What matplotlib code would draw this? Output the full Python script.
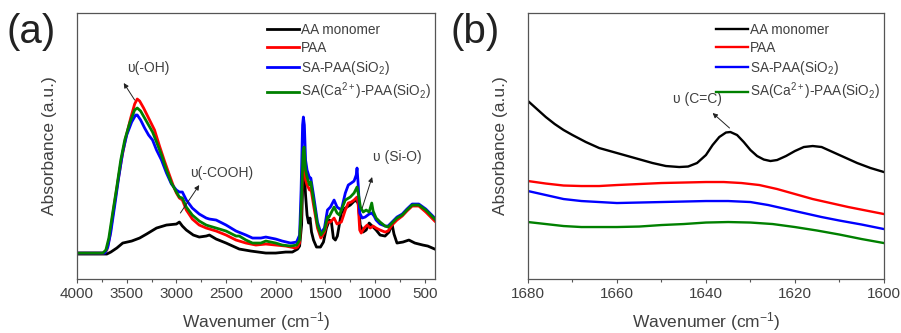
import matplotlib
matplotlib.use("Agg")
import matplotlib.pyplot as plt
from matplotlib.ticker import MultipleLocator

plt.rcParams['font.family'] = ['Liberation Sans', 'DejaVu Sans']
plt.rcParams['mathtext.fontset'] = 'custom'
plt.rcParams['mathtext.rm'] = 'Liberation Sans'
plt.rcParams['mathtext.it'] = 'Liberation Sans:italic'

TEXT = '#404040'

series_names = ['AA monomer', 'PAA', 'SA-PAA(SiO$_2$)', 'SA(Ca$^{2+}$)-PAA(SiO$_2$)']
series_colors = ['black', '#ff0000', '#0000ff', '#008000']

# ---- panel (a): full spectrum, wavenumber (cm-1) and absorbance (a.u.)
a_black_x = [4000, 3700, 3660, 3600, 3540, 3450, 3370, 3300, 3200, 3100, 3000, 2970, 2940,
             2900, 2830, 2770, 2700, 2668, 2600, 2500, 2367, 2250, 2100, 2000, 1900, 1833,
             1780, 1760, 1740, 1725, 1715, 1700, 1685, 1670, 1655, 1640, 1620, 1590, 1550,
             1520, 1490, 1460, 1440, 1420, 1400, 1380, 1340, 1300, 1250, 1200, 1170, 1150,
             1120, 1090, 1060, 1020, 990, 950, 900, 860, 830, 810, 780, 720, 660, 600, 520,
             470, 400]
a_black_y = [25, 25, 27, 31, 36, 38, 41, 45, 51, 54, 55, 57, 53,
             49, 44, 42, 43, 44, 40, 36, 30, 28, 26, 26, 27, 27,
             30, 33, 54, 109, 112, 84, 64, 56, 61, 47, 39, 32, 32,
             37, 51, 59, 57, 41, 39, 43, 66, 71, 74, 79, 76, 54,
             47, 49, 56, 52, 49, 44, 43, 47, 55, 45, 36, 37, 39, 36, 34,
             33, 30]

a_red_x = [4000, 3730, 3700, 3670, 3630, 3590, 3550, 3510, 3460, 3420, 3394, 3370, 3330,
           3300, 3260, 3220, 3170, 3120, 3070, 3030, 3000, 2970, 2940, 2900, 2840, 2770,
           2700, 2600, 2500, 2400, 2300, 2200, 2100, 2000, 1900, 1800, 1780, 1760, 1745,
           1725, 1715, 1700, 1685, 1660, 1647, 1620, 1580, 1546, 1510, 1480, 1450, 1413,
           1383, 1340, 1300, 1270, 1240, 1212, 1182, 1170, 1155, 1140, 1110, 1080, 1050,
           1020, 990, 950, 900, 870, 830, 780, 727, 680, 627, 560, 490, 400]
a_red_y = [26, 26, 29, 43, 71, 97, 121, 141, 161, 175, 180, 178, 171,
           165, 157, 149, 133, 118, 104, 93, 86, 81, 79, 69, 60, 54,
           51, 48, 44, 39, 36, 34, 35, 34, 33, 31, 32, 36, 64,
           124, 127, 99, 94, 89, 91, 74, 51, 41, 47, 57, 57, 61,
           55, 57, 69, 76, 77, 79, 82, 74, 49, 46, 51, 54, 51,
           53, 51, 49, 47, 48, 54, 59, 63, 68, 73, 73, 67, 58]

a_blue_x = [4000, 3720, 3690, 3660, 3620, 3580, 3540, 3500, 3450, 3410, 3394, 3360, 3320,
            3280, 3240, 3200, 3150, 3100, 3050, 3000, 2970, 2940, 2900, 2840, 2770, 2700,
            2668, 2600, 2500, 2400, 2300, 2234, 2150, 2100, 2000, 1935, 1850, 1790, 1760,
            1745, 1730, 1722, 1712, 1700, 1685, 1660, 1647, 1620, 1580, 1546, 1510, 1480,
            1450, 1413, 1383, 1340, 1300, 1270, 1240, 1212, 1190, 1182, 1170, 1155, 1130,
            1100, 1060, 1034, 1010, 990, 950, 900, 870, 830, 780, 727, 680, 627, 560, 490, 400]
a_blue_y = [26, 26, 32, 47, 74, 102, 127, 144, 157, 164, 164, 159, 151,
            144, 139, 129, 119, 106, 95, 89, 87, 87, 79, 71, 65, 61,
            60, 59, 54, 48, 44, 41, 41, 42, 40, 38, 36, 37, 44,
            89, 154, 162, 154, 119, 109, 101, 101, 84, 57, 46, 51, 69,
            72, 79, 72, 69, 86, 94, 96, 98, 104, 111, 94, 66, 61,
            62, 65, 66, 63, 59, 55, 53, 53, 57, 62, 65, 70, 75, 75, 70, 61]

a_green_x = [4000, 3740, 3710, 3680, 3640, 3600, 3560, 3520, 3470, 3420, 3394, 3360, 3320,
             3280, 3240, 3200, 3150, 3100, 3050, 3000, 2970, 2940, 2900, 2840, 2770, 2700,
             2668, 2600, 2500, 2400, 2367, 2300, 2234, 2150, 2100, 2000, 1935, 1850, 1790,
             1760, 1745, 1725, 1715, 1700, 1685, 1660, 1647, 1620, 1580, 1546, 1510, 1480,
             1464, 1413, 1383, 1360, 1300, 1250, 1212, 1182, 1165, 1148, 1120, 1090, 1060,
             1034, 1020, 990, 950, 900, 870, 830, 780, 727, 680, 627, 560, 490, 400]
a_green_y = [26, 26, 29, 41, 67, 92, 119, 139, 156, 169, 171, 168, 161,
             154, 147, 137, 124, 109, 96, 87, 82, 81, 72, 64, 58, 54,
             53, 51, 48, 43, 43, 39, 36, 36, 38, 36, 34, 33, 34,
             39, 69, 127, 132, 109, 102, 94, 97, 79, 54, 44, 49, 62,
             62, 72, 66, 64, 79, 82, 86, 92, 83, 72, 67, 69, 67,
             76, 68, 61, 57, 53, 52, 56, 61, 64, 69, 74, 74, 69, 60]

# ---- panel (b): zoom 1680-1600 cm-1
b_black_x = [1680, 1678, 1676, 1674, 1672, 1670, 1667, 1664, 1660, 1656, 1652, 1649, 1646,
             1644, 1642, 1640, 1638.5, 1637, 1635.5, 1634.5, 1633, 1631.5, 1630, 1628.5,
             1627, 1625.5, 1624, 1622, 1620, 1618, 1616, 1614, 1612, 1609, 1606, 1603, 1600]
b_black_y = [178, 170, 162, 155, 149, 144, 137, 131, 126, 121, 116, 113, 112,
             112.5, 116, 124, 134, 142, 146.5, 147, 144, 137, 129, 123,
             119.5, 118, 119, 123, 128, 132, 133, 132, 128, 122, 116, 111, 107]
b_red_x = [1680, 1676, 1672, 1668, 1664, 1660, 1655, 1650, 1645, 1640, 1636, 1632, 1628,
           1624, 1620, 1616, 1612, 1608, 1604, 1600]
b_red_y = [98, 95.5, 93.5, 93, 93, 94, 95, 96, 96.5, 97, 97, 96, 94,
           90, 85, 80, 76, 72, 68.5, 65]
b_blue_x = [1680, 1676, 1672, 1668, 1664, 1660, 1655, 1650, 1645, 1640, 1635, 1630, 1626,
            1622, 1618, 1614, 1610, 1605, 1600]
b_blue_y = [88, 84, 80, 78, 77, 76, 76.5, 77, 77.5, 78, 78, 77, 74,
            70, 66, 62, 58.5, 54.5, 50]
b_green_x = [1680, 1676, 1672, 1668, 1660, 1655, 1650, 1645, 1640, 1635, 1630, 1625, 1620,
             1615, 1610, 1605, 1600]
b_green_y = [57, 55, 53, 52, 52, 52.5, 54, 55, 56.5, 57, 56.5, 55, 52,
             48.5, 44.5, 40, 36]

fig = plt.figure(figsize=(9.01, 3.33), dpi=100)
ax_a = fig.add_axes([0.0855, 0.162, 0.397, 0.799])
ax_b = fig.add_axes([0.586, 0.162, 0.395, 0.799])

panel_a = [(a_black_x, a_black_y), (a_red_x, a_red_y), (a_blue_x, a_blue_y), (a_green_x, a_green_y)]
panel_b = [(b_black_x, b_black_y), (b_red_x, b_red_y), (b_blue_x, b_blue_y), (b_green_x, b_green_y)]

for (x, y), name, c in zip(panel_a, series_names, series_colors):
    ax_a.plot(x, y, color=c, lw=2.0, label=name)
for (x, y), name, c in zip(panel_b, series_names, series_colors):
    ax_b.plot(x, y, color=c, lw=1.7, label=name)

ax_a.set_xlim(4000, 400)
ax_a.xaxis.set_major_locator(MultipleLocator(500))
ax_a.xaxis.set_minor_locator(MultipleLocator(250))
ax_b.set_xlim(1680, 1600)
ax_b.xaxis.set_major_locator(MultipleLocator(20))
ax_b.xaxis.set_minor_locator(MultipleLocator(10))

for ax in (ax_a, ax_b):
    ax.set_ylim(0, 266)
    ax.set_yticks([])
    for s in ax.spines.values():
        s.set_color('#555555')
        s.set_linewidth(0.9)
    ax.tick_params(axis='x', which='major', direction='out', length=3, width=0.8,
                   colors='#555555', labelcolor=TEXT, labelsize=11, pad=3)
    ax.tick_params(axis='x', which='minor', direction='out', length=2, width=0.8, colors='#555555')
    ax.set_xlabel('Wavenumer (cm$^{-1}$)', fontsize=12.5, color=TEXT, labelpad=6)
    ax.set_ylabel('Absorbance (a.u.)', fontsize=12.5, color=TEXT)
    ax.yaxis.set_label_coords(-0.056, 0.5)
    ax.legend(loc='upper right', bbox_to_anchor=(1.015, 1.0), frameon=False, fontsize=9.8,
              handlelength=2.4, handletextpad=0.1, labelspacing=0.3, borderaxespad=0.3,
              labelcolor=TEXT)

fig.text(0.007, 0.905, '(a)', fontsize=29, color='#222222', va='center')
fig.text(0.500, 0.905, '(b)', fontsize=29, color='#222222', va='center')

arrow = dict(arrowstyle='-|>', color='#222222', lw=0.7, mutation_scale=7, shrinkA=0, shrinkB=0)
ax_a.annotate('', xy=(3530, 196), xytext=(3420, 179), arrowprops=arrow)
ax_a.text(3280, 211, 'υ(-OH)', fontsize=10, color=TEXT, ha='center', va='center')
ax_a.annotate('', xy=(2770, 94), xytext=(2960, 66), arrowprops=arrow)
ax_a.text(2540, 106, 'υ(-COOH)', fontsize=10, color=TEXT, ha='center', va='center')
ax_a.annotate('', xy=(1030, 102), xytext=(1130, 71), arrowprops=arrow)
ax_a.text(780, 122, 'υ (Si-O)', fontsize=10, color=TEXT, ha='center', va='center')
ax_b.annotate('', xy=(1638.5, 166), xytext=(1634.7, 151), arrowprops=arrow)
ax_b.text(1642, 180, 'υ (C=C)', fontsize=10, color=TEXT, ha='center', va='center')

fig.savefig('out.png', dpi=100)
